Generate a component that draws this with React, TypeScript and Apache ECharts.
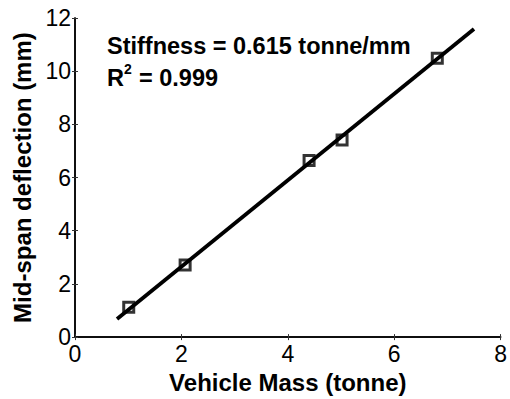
import React, { useEffect, useRef } from 'react';
import * as echarts from 'echarts';

// Measured data points (vehicle mass in tonne, mid-span deflection in mm)
const massTonne = [1.01, 2.07, 4.4, 5.02, 6.81];
const deflectionMm = [1.12, 2.71, 6.64, 7.41, 10.49];
// Fitted line end points
const fitMass = [0.79, 7.5];
const fitDeflection = [0.68, 11.59];
// Axes
const xMin = 0;
const xMax = 8;
const xStep = 2;
const yMin = 0;
const yMax = 12;
const yStep = 2;
const xTitle = 'Vehicle Mass (tonne)';
const yTitle = 'Mid-span deflection (mm)';
const stiffnessText = 'Stiffness = 0.615 tonne/mm';
const r2Label = 'R';
const r2Sup = '2';
const r2Value = '= 0.999';

const FONT = '"Liberation Sans", Arial, Helvetica, sans-serif';

export default function App() {
  const ref = useRef<HTMLDivElement>(null);
  useEffect(() => {
    if (!ref.current) return;
    const chart = echarts.init(ref.current, undefined, { renderer: 'svg' });
    const tickStyle = { show: true, inside: true, length: 3, lineStyle: { color: '#333', width: 1 } };
    const lineStyle = { color: '#000', width: 1.5 };
    const fit = fitMass.map((m, i) => [m, fitDeflection[i]]);
    const pts = massTonne.map((m, i) => [m, deflectionMm[i]]);
    chart.setOption({
      animation: false,
      backgroundColor: '#fff',
      grid: { left: 75, top: 18, right: 6, bottom: 53, containLabel: false },
      xAxis: [
        {
          type: 'value', min: xMin, max: xMax, interval: xStep,
          position: 'bottom',
          name: xTitle, nameLocation: 'middle', nameGap: 27,
          nameTextStyle: { fontFamily: FONT, fontSize: 24, fontWeight: 'bold', color: '#000', verticalAlign: 'top' },
          axisLine: { show: true, lineStyle },
          axisTick: tickStyle,
          axisLabel: { fontFamily: FONT, fontSize: 23, color: '#000', margin: 5 },
          splitLine: { show: false },
        },
        {
          type: 'value', min: xMin, max: xMax, interval: xStep,
          position: 'top',
          axisLine: { show: true, lineStyle },
          axisTick: tickStyle,
          axisLabel: { show: false },
          splitLine: { show: false },
        },
      ],
      yAxis: [
        {
          type: 'value', min: yMin, max: yMax, interval: yStep,
          position: 'left',
          name: yTitle, nameLocation: 'middle', nameGap: 38,
          nameTextStyle: { fontFamily: FONT, fontSize: 24, fontWeight: 'bold', color: '#000' },
          axisLine: { show: true, lineStyle },
          axisTick: tickStyle,
          axisLabel: { fontFamily: FONT, fontSize: 23, color: '#000', margin: 4 },
          splitLine: { show: false },
        },
        {
          type: 'value', min: yMin, max: yMax, interval: yStep,
          position: 'right',
          axisLine: { show: true, lineStyle },
          axisTick: tickStyle,
          axisLabel: { show: false },
          splitLine: { show: false },
        },
      ],
      series: [
        {
          type: 'line',
          data: fit,
          symbol: 'none',
          lineStyle: { color: '#000', width: 3.8 },
          z: 2,
        },
        {
          type: 'scatter',
          data: pts,
          symbol: 'rect',
          symbolSize: 10,
          itemStyle: { color: 'rgba(0,0,0,0)', borderColor: '#000', borderWidth: 3 },
          z: 3,
        },
      ],
      graphic: [
        {
          type: 'text', x: 107, y: 45.5,
          style: { text: stiffnessText, fontFamily: FONT, fontSize: 23.5, fontWeight: 'bold', fill: '#000', textAlign: 'left', verticalAlign: 'middle' },
        },
        {
          type: 'text', x: 107, y: 77.5,
          style: { text: r2Label, fontFamily: FONT, fontSize: 23.5, fontWeight: 'bold', fill: '#000', textAlign: 'left', verticalAlign: 'middle' },
        },
        {
          type: 'text', x: 124, y: 68.5,
          style: { text: r2Sup, fontFamily: FONT, fontSize: 14, fontWeight: 'bold', fill: '#000', textAlign: 'left', verticalAlign: 'middle' },
        },
        {
          type: 'text', x: 139, y: 77.5,
          style: { text: r2Value, fontFamily: FONT, fontSize: 23.5, fontWeight: 'bold', fill: '#000', textAlign: 'left', verticalAlign: 'middle' },
        },
      ],
    });
    return () => chart.dispose();
  }, []);
  return (
    <div
      ref={ref}
      style={{ position: 'absolute', left: 0, top: 0, width: 510, height: 399, background: '#fff' }}
    />
  );
}
